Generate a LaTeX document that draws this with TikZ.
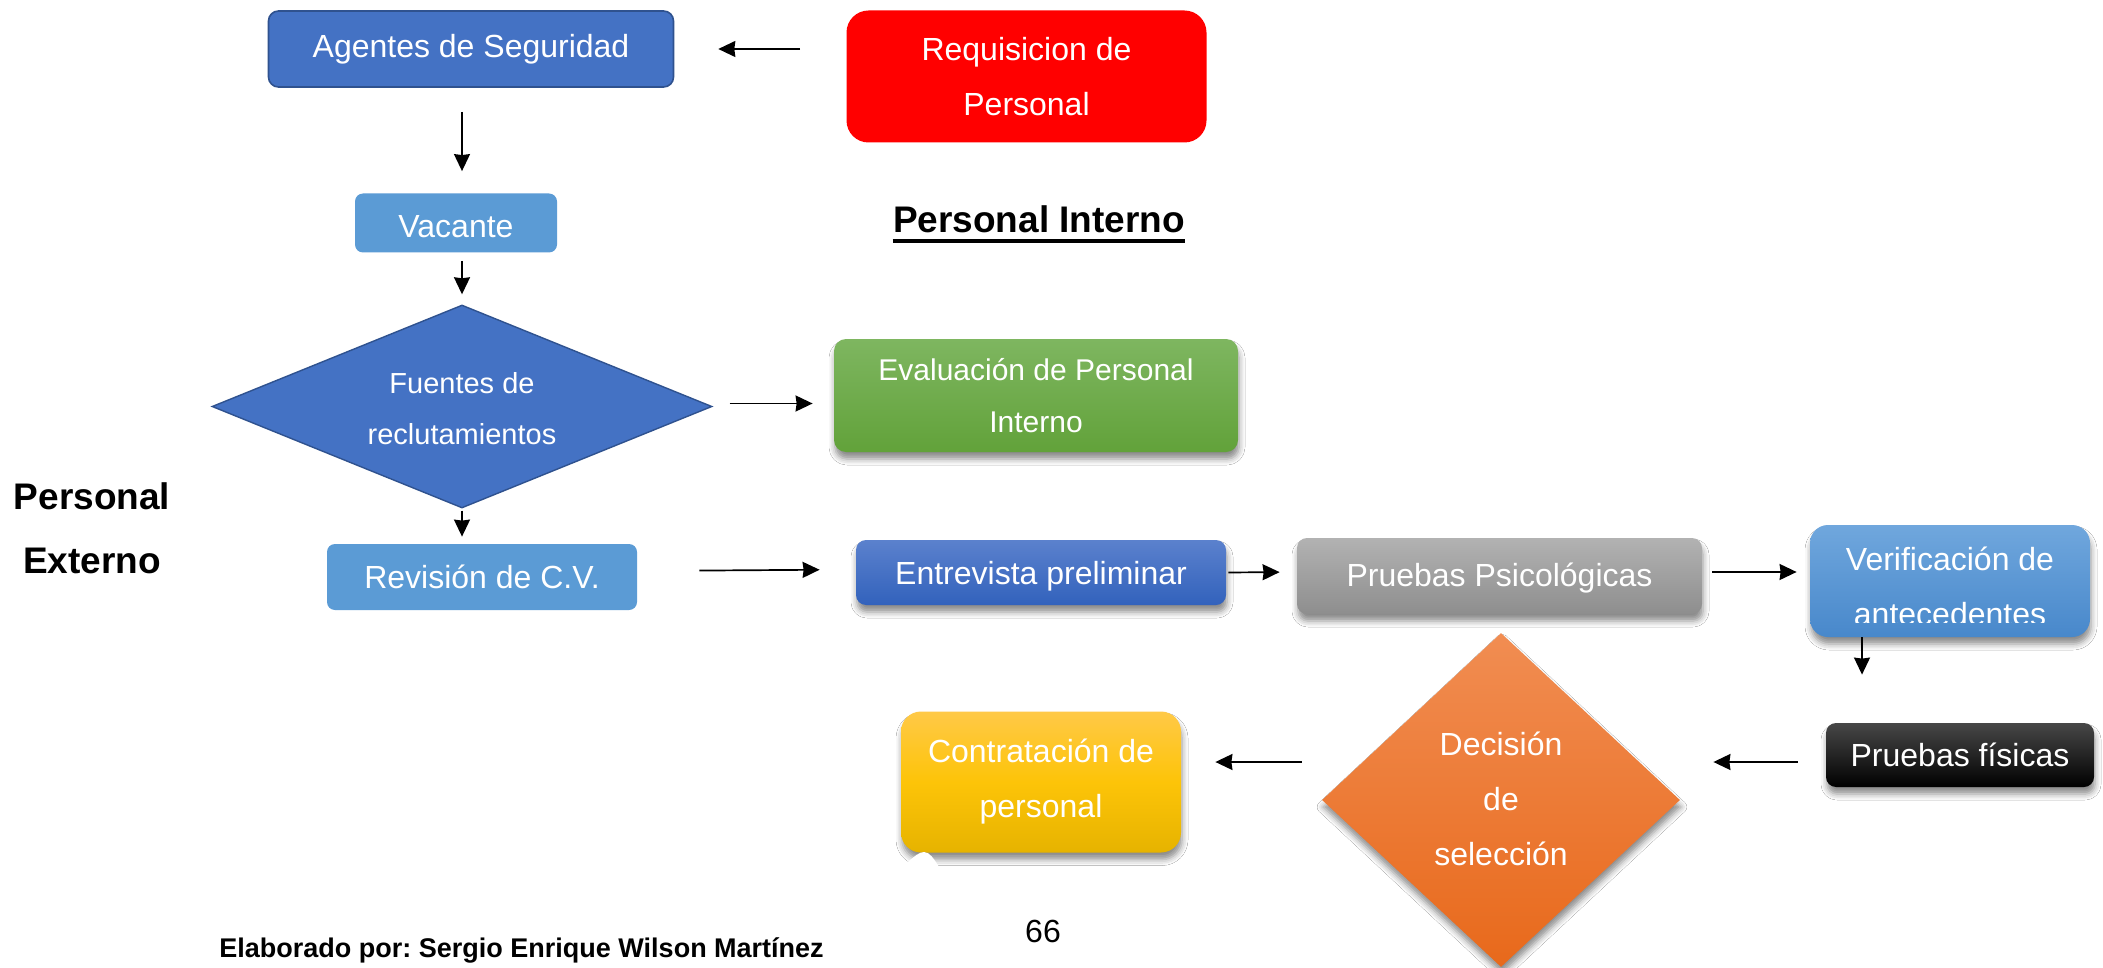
\documentclass[tikz,border=0pt]{standalone}
\usepackage{fontspec}
\setmainfont{Liberation Sans}
\usetikzlibrary{arrows.meta,shapes.geometric,shadows.blur}
\frenchspacing

\definecolor{agentblue}{HTML}{4472C4}
\definecolor{agentedge}{HTML}{2F528F}
\definecolor{skyblue}{HTML}{5B9BD5}
\definecolor{greentop}{HTML}{7EB660}
\definecolor{greenbot}{HTML}{62A23A}
\definecolor{intertop}{HTML}{5B81CD}
\definecolor{interbot}{HTML}{3262BC}
\definecolor{graytop}{HTML}{B2B2B2}
\definecolor{graybot}{HTML}{8E8E8E}
\definecolor{veriftop}{HTML}{70A7DD}
\definecolor{verifbot}{HTML}{4888CB}
\definecolor{orangetop}{HTML}{F18D52}
\definecolor{orangebot}{HTML}{E8691B}
\definecolor{goldtop}{HTML}{FFC947}
\definecolor{goldmid}{HTML}{FDC408}
\definecolor{goldbot}{HTML}{E6B300}

\begin{document}
\begin{tikzpicture}[x=0.5pt,y=-0.5pt,
  txt/.style={text=white, align=center, inner sep=0pt,
              font=\fontsize{16}{27.5}\selectfont},
  flat/.style={rectangle, rounded corners=4pt, txt},
  soft/.style={blur shadow={shadow xshift=0.5pt, shadow yshift=-3.5pt,
               shadow blur radius=3pt, shadow opacity=45}},
  arr/.style={-{Stealth[length=8.5pt,width=8pt,inset=0.5pt]}, line width=0.85pt}]

\useasboundingbox (0,0) rectangle (2103,968);
\fill[white] (0,0) rectangle (2103,968);

% --- left column -------------------------------------------------------
\node[flat, fill=agentblue, draw=agentedge, line width=0.8pt, rounded corners=5pt,
      minimum width=202.5pt, minimum height=38pt] (agentes) at (471,49)
      {Agentes de Seguridad};
\node[flat, fill=red, rounded corners=11pt,
      minimum width=180pt, minimum height=66pt] (requisicion) at (1026.5,76.5)
      {Requisicion de\\Personal};
\node[flat, fill=skyblue, minimum width=101pt, minimum height=29.5pt,
      text height=15pt] (vacante) at (456,223) {Vacante};
\node[diamond, fill=agentblue, draw=agentedge, line width=0.7pt, inner sep=0pt,
      minimum width=250pt, minimum height=101.5pt] (fuentes) at (462,406.5) {};
\node[txt, font=\fontsize{14.5}{25.5}\selectfont] (fuentestxt) at (462,408.5)
      {Fuentes de\\reclutamientos};
\node[flat, fill=skyblue, minimum width=155pt, minimum height=33pt]
      (revision) at (482,577) {Revisión de C.V.};

% --- shaded boxes ------------------------------------------------------
\node[flat, soft, rounded corners=6pt, top color=greentop, bottom color=greenbot,
      minimum width=202pt, minimum height=56.5pt, font=\fontsize{15}{26}\selectfont]
      (evaluacion) at (1036,395.5) {Evaluación de Personal\\Interno};
\node[flat, soft, rounded corners=5pt, top color=intertop, bottom color=interbot,
      minimum width=185pt, minimum height=32.5pt, text depth=0pt]
      (entrevista) at (1041,572.5) {Entrevista preliminar};
\node[flat, soft, rounded corners=5pt, top color=graytop, bottom color=graybot,
      minimum width=202.5pt, minimum height=38pt, text depth=1pt]
      (psico) at (1499.5,576) {Pruebas Psicológicas};
\node[flat, soft, rounded corners=9pt, top color=veriftop, bottom color=verifbot,
      minimum width=140pt, minimum height=56pt] (verif) at (1950,581) {};
\begin{scope}
  \clip (verif.north west) rectangle ([yshift=7.5pt]verif.south east);
  \node[txt] (veriftxt) at (1950,586) {Verificación de\\antecedentes};
\end{scope}
\node[flat, soft, rounded corners=5pt, top color=black!72, bottom color=black,
      minimum width=134pt, minimum height=32pt]
      (fisicas) at (1960,755) {Pruebas físicas};
\node[diamond, soft, top color=orangetop, bottom color=orangebot, inner sep=0pt,
      minimum width=179pt, minimum height=167pt] (decision) at (1501,800) {};
\node[txt] (decisiontxt) at (1501,799) {Decisión\\de\\selección};
\node[flat, soft, rounded corners=10pt, top color=goldtop, bottom color=goldbot,
      middle color=goldmid, minimum width=140pt, minimum height=70.5pt]
      (contratacion) at (1041,782) {Contratación de\\personal};
\fill[white] (902,870) -- (902,862) to[out=-90,in=180] (924,852)
      to[out=0,in=-110] (946,870) -- cycle;

% --- captions ----------------------------------------------------------
\node[inner sep=0pt, anchor=base, font=\fontsize{18.5}{22}\selectfont\bfseries]
      (pint) at (1039,233) {Personal Interno};
\draw[line width=2pt] ([yshift=-4pt]pint.base west) -- ([yshift=-4pt]pint.base east);
\node[inner sep=0pt, align=center, font=\fontsize{18.5}{32}\selectfont\bfseries]
      (pext) at (92,528) {Personal\\Externo};
\node[inner sep=0pt, anchor=base west, font=\fontsize{13.5}{16}\selectfont\bfseries]
      (autor) at (219,957) {Elaborado por: Sergio Enrique Wilson Martínez};
\node[inner sep=0pt, anchor=base, font=\fontsize{16}{19}\selectfont]
      (pagina) at (1043,942) {66};

% --- connectors --------------------------------------------------------
\draw[arr, shorten <=23pt, shorten >=22pt]
  (requisicion.west |- agentes.east) -- (agentes.east);
\draw[arr, shorten <=12pt, shorten >=11pt]
  (agentes.south -| fuentes.north) -- (vacante.north -| fuentes.north);
\draw[arr, shorten <=4pt, shorten >=5pt]
  (vacante.south -| fuentes.north) -- (fuentes.north);
\draw[arr, shorten <=8.5pt, shorten >=10.5pt]
  ([yshift=1.5pt]fuentes.east) -- ([yshift=1.5pt]fuentes.east -| evaluacion.west);
\draw[arr, shorten <=1pt, shorten >=3.5pt]
  (fuentes.south) -- (fuentes.south |- revision.north);
\draw[arr, shorten <=31pt, shorten >=18pt]
  ([yshift=3pt]revision.east) -- ([yshift=1.5pt]entrevista.west);
\draw[arr, shorten <=1pt, shorten >=8.5pt]
  (entrevista.east) -- ([yshift=2pt]psico.west);
\draw[arr, shorten <=5pt, shorten >=6.5pt]
  ([yshift=2pt]psico.east) -- ([yshift=2pt]psico.east -| verif.west);
\draw[arr, shorten >=24pt]
  ([xshift=-44pt]verif.south) -- ([xshift=-44pt]verif.south |- fisicas.north);
\draw[arr, shorten <=14pt, shorten >=16.5pt]
  ([yshift=-3.5pt]fisicas.west) -- ([yshift=-3.5pt]fisicas.west -| decision.east);
\draw[arr, shorten <=10pt, shorten >=17pt]
  ([yshift=10pt]contratacion.east -| decision.west) -- ([yshift=10pt]contratacion.east);

\end{tikzpicture}
\end{document}
